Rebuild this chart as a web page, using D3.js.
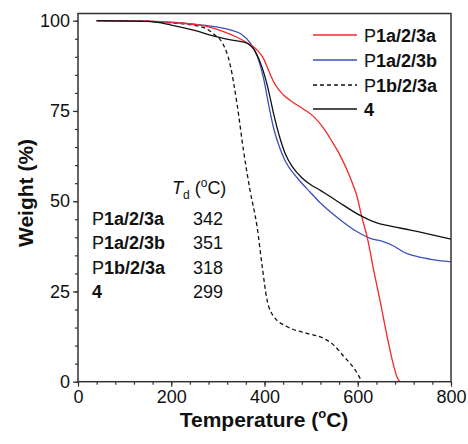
<!DOCTYPE html>
<html><head><meta charset="utf-8">
<script src="https://cdn.jsdelivr.net/npm/d3@7"></script>
<style>body{margin:0;background:#fff;} svg{display:block;font-family:"Liberation Sans",Arial,sans-serif;}</style>
</head><body>
<svg id="c" width="468" height="444"></svg>
<script>
// Data (temperature °C, weight %)
const redT   = [40,150,200,262,312,340,357,384,398,408,418,428,440,460,484,505,525,545,563,584,598,609,620,634,649,663,674,684,690];
const redW   = [100,99.9,99.5,98.8,97,95.5,94.3,91.9,89.5,86.5,83.5,81.3,79.5,77.5,75.5,73.5,70.5,66.5,62.5,56.5,51.5,45.5,40.2,31,21.7,12.5,6,1.4,0];
const blueT  = [40,200,250,300,330,350,370,385,398,410,420,432,445,470,498,520,556,598,627,650,677,700,720,756,800];
const blueW  = [100,99.6,99.0,98.2,97.3,96.3,93.7,90,84,76,70,65,61,56.5,52.5,49.5,45.5,41.6,39.7,39,37.6,35.8,34.9,33.9,33.2];
const dashT  = [40,150,200,250,275,294,309,326,341,355,369,384,395,405,420,448,491,527,548,570,592,609];
const dashW  = [100,99.8,99.4,98.7,97.8,96,94,88,77,64,53,43,32,23,18,15.3,13.4,12,10.2,7,3.7,0];
const blackT = [40,150,200,250,290,330,358,380,395,408,420,432,445,460,480,500,520,556,606,641,663,713,800];
const blackW = [100,99.8,98.8,97.3,95.8,94.6,94.0,91.5,87,81,74,68,63,59.5,56.5,54.5,53,50,46,44,43.3,42,39.5];

const seriesNames = ["P1a/2/3a","P1a/2/3b","P1b/2/3a","4"];
const tdValues = [342,351,318,299];
const xTicks = [0,200,400,600,800];
const yTicks = [0,25,50,75,100];

const svg = d3.select("#c");
const x = d3.scaleLinear().domain([0,800]).range([78,451]);
const y = d3.scaleLinear().domain([0,102]).range([381.7,13.5]);

const series = [
  {name:seriesNames[0], T:redT, W:redW, color:"#f2282a", dash:null},
  {name:seriesNames[1], T:blueT, W:blueW, color:"#3c4fbe", dash:null},
  {name:seriesNames[2], T:dashT, W:dashW, color:"#111", dash:"4,3"},
  {name:seriesNames[3], T:blackT, W:blackW, color:"#111", dash:null}
];

const line = d3.line().x(d=>x(d[0])).y(d=>y(d[1])).curve(d3.curveMonotoneX);
const g = svg.append("g");
[2,1,0,3].forEach(i=>{
  const s = series[i];
  g.append("path").datum(s.T.map((t,j)=>[t,s.W[j]]))
    .attr("d",line).attr("fill","none").attr("stroke",s.color)
    .attr("stroke-width",1.3).attr("stroke-dasharray",s.dash);
});

// frame
svg.append("rect").attr("x",78).attr("y",13.5).attr("width",373).attr("height",368.2)
  .attr("fill","none").attr("stroke","#333").attr("stroke-width",1.5);

// axes
const xAxisMinor = d3.axisBottom(x).tickValues(d3.range(0,801,40)).tickSize(3).tickFormat("");
const xAxis = d3.axisBottom(x).tickValues(xTicks).tickSize(5).tickPadding(4);
const yAxisMinor = d3.axisLeft(y).tickValues(d3.range(0,101,5)).tickSize(3).tickFormat("");
const yAxis = d3.axisLeft(y).tickValues(yTicks).tickSize(5).tickPadding(3);
[xAxisMinor,xAxis].forEach(a=>{
  svg.append("g").attr("transform","translate(0,381.7)").call(a)
    .call(gg=>gg.select(".domain").remove())
    .call(gg=>gg.selectAll("line").attr("stroke","#333").attr("stroke-width",1.2))
    .call(gg=>gg.selectAll("text").attr("font-size",18).attr("fill","#111").attr("font-family","Liberation Sans, Arial"));
});
[yAxisMinor,yAxis].forEach(a=>{
  svg.append("g").attr("transform","translate(78,0)").call(a)
    .call(gg=>gg.select(".domain").remove())
    .call(gg=>gg.selectAll("line").attr("stroke","#333").attr("stroke-width",1.2))
    .call(gg=>gg.selectAll("text").attr("font-size",18).attr("fill","#111").attr("font-family","Liberation Sans, Arial"));
});

// axis titles
const xt = svg.append("text").attr("x",264).attr("y",427).attr("text-anchor","middle")
  .attr("font-size",21).attr("font-weight","bold").attr("fill","#111");
xt.append("tspan").text("Temperature (");
xt.append("tspan").text("o").attr("font-size",13).attr("dy",-9);
xt.append("tspan").text("C)").attr("dy",9);
svg.append("text").attr("transform","translate(33,193) rotate(-90)").attr("text-anchor","middle")
  .attr("font-size",21).attr("font-weight","bold").attr("fill","#111").text("Weight (%)");

function nameText(sel, name){
  if(name.startsWith("P")){
    sel.append("tspan").text("P");
    sel.append("tspan").text(name.slice(1)).attr("font-weight","bold");
  } else {
    sel.append("tspan").text(name).attr("font-weight","bold");
  }
}

// legend
const legY = [35,60,85,109];
[0,1,2,3].forEach(i=>{
  const s = series[i];
  svg.append("line").attr("x1",313).attr("x2",357).attr("y1",legY[i]).attr("y2",legY[i])
    .attr("stroke",s.color).attr("stroke-width",1.3).attr("stroke-dasharray",s.dash);
  const t = svg.append("text").attr("x",364).attr("y",legY[i]+6.5).attr("font-size",18).attr("fill","#111");
  nameText(t, s.name);
});

// Td table
const hdr = svg.append("text").attr("x",172).attr("y",193.5).attr("font-size",18).attr("fill","#111");
hdr.append("tspan").text("T").attr("font-style","italic");
hdr.append("tspan").text("d").attr("font-size",12).attr("dy",5);
hdr.append("tspan").text(" (").attr("dy",-5);
hdr.append("tspan").text("o").attr("font-size",12).attr("dy",-7);
hdr.append("tspan").text("C)").attr("dy",7);
const rowY = [225,249.3,273.6,297.9];
seriesNames.forEach((n,i)=>{
  const t = svg.append("text").attr("x",92).attr("y",rowY[i]).attr("font-size",18).attr("fill","#111");
  nameText(t,n);
  svg.append("text").attr("x",193).attr("y",rowY[i]).attr("font-size",18).attr("fill","#111").text(tdValues[i]);
});
</script>
</body></html>
